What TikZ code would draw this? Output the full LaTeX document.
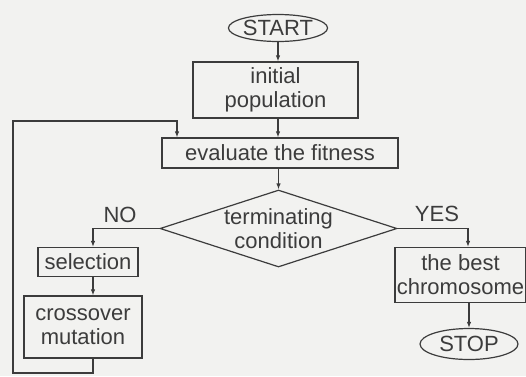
\documentclass[tikz,border=0pt]{standalone}
\usepackage{fontspec}
\setmainfont{Liberation Sans}
\usetikzlibrary{arrows.meta,shapes.geometric}
\definecolor{paper}{RGB}{242,242,240}
\definecolor{ink}{RGB}{60,60,60}
\begin{document}
\begin{tikzpicture}[x=1pt,y=1pt]
\tikzstyle{every node}+=[inner sep=0pt,text=ink,font=\fontsize{22}{24}\selectfont,align=center]
\tikzstyle{flowbox}=[draw=ink,line width=1.2pt,rectangle]
\tikzstyle{terminal}=[draw=ink,line width=1.2pt,ellipse]
\tikzstyle{flowline}=[draw=ink,line width=1.2pt,-{Latex[length=6pt,width=4.5pt]}]
\path[use as bounding box,fill=paper] (0,0) rectangle (526,-376);
\node [terminal,minimum width=95pt,minimum height=27pt] (start) at (278,-28) {START};
\node [flowbox,minimum width=165pt,minimum height=56pt] (init) at (275.5,-90) {initial\\population};
\node [flowbox,minimum width=236pt,minimum height=30pt] (eval) at (280,-153) {evaluate the fitness};
\node [draw=ink,line width=1.2pt,diamond,aspect=3,minimum width=237pt,minimum height=77pt] (cond) at (278.5,-228.5) {terminating\\condition};
\node [flowbox,minimum width=100pt,minimum height=29pt] (sel) at (88,-262) {selection};
\node [flowbox,minimum width=118pt,minimum height=62pt] (cross) at (83,-327) {crossover\\mutation};
\node [flowbox,minimum width=131pt,minimum height=55pt] (best) at (460.5,-275) {the best\\chromosome};
\node [terminal,minimum width=98pt,minimum height=31pt] (stop) at (469,-344) {STOP};
\node (no) at (120,-215) {NO};
\node (yes) at (437,-214) {YES};
\coordinate (colL) at (93,0);
\coordinate (colR) at (468,0);
\coordinate (loopB) at (13,-373);
\coordinate (loopT) at (13,-121);
\coordinate (loopIn) at (177,0);
\draw [flowline] (start.south) -- (start.south |- init.north);
\draw [flowline] (init.south -| start) -- (eval.north -| start);
\draw [flowline] (eval.south -| cond) -- (cond.north);
\draw [flowline] (cond.west) -| (sel.north -| colL);
\draw [flowline] (sel.south -| colL) -- (cross.north -| colL);
\draw [flowline] (cond.east) -| (best.north -| colR);
\draw [flowline] (best.south -| stop) -- (stop.north);
\draw [flowline] (cross.south -| colL) |- (loopB) -- (loopT) -| (eval.north -| loopIn);
\end{tikzpicture}
\end{document}
